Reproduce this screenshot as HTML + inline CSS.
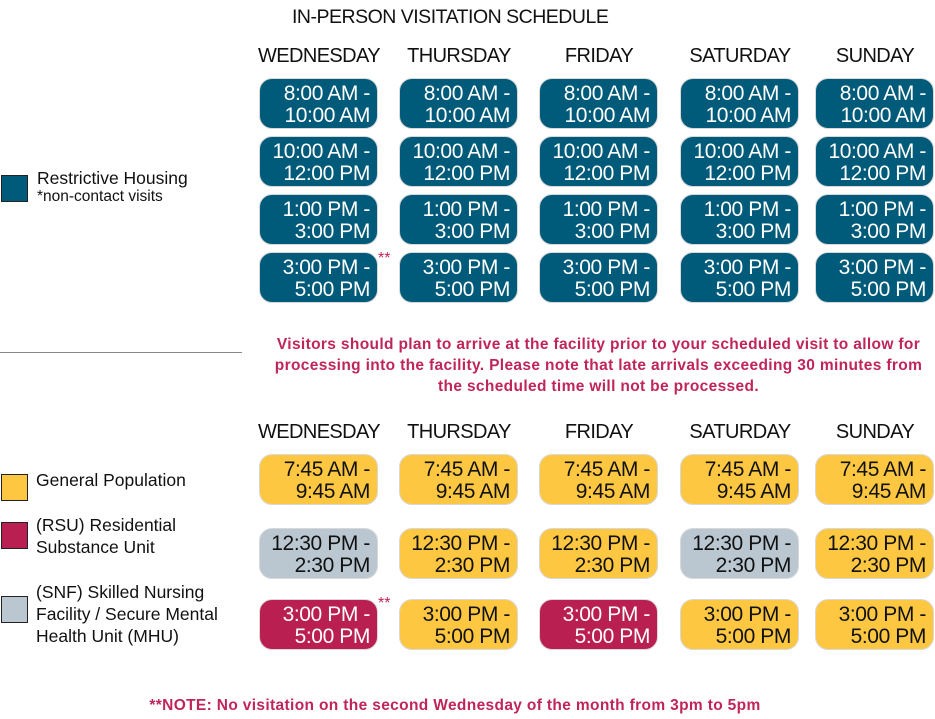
<!DOCTYPE html>
<html><head><meta charset="utf-8"><style>
body{margin:0;width:935px;height:719px;background:#fff;position:relative;font-family:"Liberation Sans",sans-serif;overflow:hidden}
.a{position:absolute}
.h{position:absolute;width:140px;text-align:center;font-size:20px;color:#111;letter-spacing:-0.6px}
.p{position:absolute;width:117px;height:49px;border:1.5px solid #d8d8d8;border-radius:13px;box-sizing:content-box;text-align:right;font-size:21px;line-height:21.5px;padding:0;letter-spacing:-0.4px}
.p span{display:block;padding:4px 7px 0 0}
.t{background:#005a79;color:#fff}
.y{background:#fdc741;color:#111}
.g{background:#bac7d1;color:#111}
.r{background:#b91f50;color:#fff}
.sq{position:absolute;width:25px;height:25px;border:1.5px solid #222}
.lg{position:absolute;font-size:17.5px;color:#111;line-height:22px}
.red{color:#c0255a;font-weight:bold;font-size:15.5px;text-align:center;letter-spacing:0.35px}
.st{position:absolute;color:#c0255a;font-size:16px}
</style></head><body>
<div class="a" style="left:292px;top:6px;font-size:19.5px;letter-spacing:-0.5px;color:#111">IN-PERSON VISITATION SCHEDULE</div>

<div class="h" style="left:249px;top:45px">WEDNESDAY</div>
<div class="h" style="left:389px;top:45px">THURSDAY</div>
<div class="h" style="left:529px;top:45px">FRIDAY</div>
<div class="h" style="left:670px;top:45px">SATURDAY</div>
<div class="h" style="left:805px;top:45px">SUNDAY</div>

<div class="p t" style="left:259px;top:78px"><span>8:00 AM -<br>10:00 AM</span></div>
<div class="p t" style="left:399px;top:78px"><span>8:00 AM -<br>10:00 AM</span></div>
<div class="p t" style="left:539px;top:78px"><span>8:00 AM -<br>10:00 AM</span></div>
<div class="p t" style="left:680px;top:78px"><span>8:00 AM -<br>10:00 AM</span></div>
<div class="p t" style="left:815px;top:78px"><span>8:00 AM -<br>10:00 AM</span></div>

<div class="p t" style="left:259px;top:136px"><span>10:00 AM -<br>12:00 PM</span></div>
<div class="p t" style="left:399px;top:136px"><span>10:00 AM -<br>12:00 PM</span></div>
<div class="p t" style="left:539px;top:136px"><span>10:00 AM -<br>12:00 PM</span></div>
<div class="p t" style="left:680px;top:136px"><span>10:00 AM -<br>12:00 PM</span></div>
<div class="p t" style="left:815px;top:136px"><span>10:00 AM -<br>12:00 PM</span></div>

<div class="p t" style="left:259px;top:194px"><span>1:00 PM -<br>3:00 PM</span></div>
<div class="p t" style="left:399px;top:194px"><span>1:00 PM -<br>3:00 PM</span></div>
<div class="p t" style="left:539px;top:194px"><span>1:00 PM -<br>3:00 PM</span></div>
<div class="p t" style="left:680px;top:194px"><span>1:00 PM -<br>3:00 PM</span></div>
<div class="p t" style="left:815px;top:194px"><span>1:00 PM -<br>3:00 PM</span></div>

<div class="p t" style="left:259px;top:252px"><span>3:00 PM -<br>5:00 PM</span></div>
<div class="p t" style="left:399px;top:252px"><span>3:00 PM -<br>5:00 PM</span></div>
<div class="p t" style="left:539px;top:252px"><span>3:00 PM -<br>5:00 PM</span></div>
<div class="p t" style="left:680px;top:252px"><span>3:00 PM -<br>5:00 PM</span></div>
<div class="p t" style="left:815px;top:252px"><span>3:00 PM -<br>5:00 PM</span></div>
<div class="st" style="left:378px;top:250px">**</div>

<div class="sq" style="left:1px;top:175px;background:#005a79"></div>
<div class="lg" style="left:37px;top:167px">Restrictive Housing</div>
<div class="a" style="left:37px;top:188px;font-size:15.5px;color:#111">*non-contact visits</div>

<div class="a" style="left:0;top:352px;width:242px;height:1px;background:#888"></div>
<div class="a red" style="left:262px;top:334px;width:673px;line-height:21px">Visitors should plan to arrive at the facility prior to your scheduled visit to allow for processing into the facility. Please note that late arrivals exceeding 30 minutes from the scheduled time will not be processed.</div>

<div class="h" style="left:249px;top:421px">WEDNESDAY</div>
<div class="h" style="left:389px;top:421px">THURSDAY</div>
<div class="h" style="left:529px;top:421px">FRIDAY</div>
<div class="h" style="left:670px;top:421px">SATURDAY</div>
<div class="h" style="left:805px;top:421px">SUNDAY</div>

<div class="p y" style="left:259px;top:454px"><span>7:45 AM -<br>9:45 AM</span></div>
<div class="p y" style="left:399px;top:454px"><span>7:45 AM -<br>9:45 AM</span></div>
<div class="p y" style="left:539px;top:454px"><span>7:45 AM -<br>9:45 AM</span></div>
<div class="p y" style="left:680px;top:454px"><span>7:45 AM -<br>9:45 AM</span></div>
<div class="p y" style="left:815px;top:454px"><span>7:45 AM -<br>9:45 AM</span></div>

<div class="p g" style="left:259px;top:528px"><span>12:30 PM -<br>2:30 PM</span></div>
<div class="p y" style="left:399px;top:528px"><span>12:30 PM -<br>2:30 PM</span></div>
<div class="p y" style="left:539px;top:528px"><span>12:30 PM -<br>2:30 PM</span></div>
<div class="p g" style="left:680px;top:528px"><span>12:30 PM -<br>2:30 PM</span></div>
<div class="p y" style="left:815px;top:528px"><span>12:30 PM -<br>2:30 PM</span></div>

<div class="p r" style="left:259px;top:599px"><span>3:00 PM -<br>5:00 PM</span></div>
<div class="p y" style="left:399px;top:599px"><span>3:00 PM -<br>5:00 PM</span></div>
<div class="p r" style="left:539px;top:599px"><span>3:00 PM -<br>5:00 PM</span></div>
<div class="p y" style="left:680px;top:599px"><span>3:00 PM -<br>5:00 PM</span></div>
<div class="p y" style="left:815px;top:599px"><span>3:00 PM -<br>5:00 PM</span></div>
<div class="st" style="left:378px;top:595px">**</div>

<div class="sq" style="left:1px;top:474px;background:#fdc741"></div>
<div class="lg" style="left:36px;top:469px">General Population</div>
<div class="sq" style="left:1px;top:522px;background:#b91f50"></div>
<div class="lg" style="left:36px;top:514px">(RSU) Residential<br>Substance Unit</div>
<div class="sq" style="left:1px;top:596px;background:#bac7d1"></div>
<div class="lg" style="left:36px;top:581px">(SNF) Skilled Nursing<br>Facility / Secure Mental<br>Health Unit (MHU)</div>

<div class="a red" style="left:0;top:697px;width:910px">**NOTE: No visitation on the second Wednesday of the month from 3pm to 5pm</div>
</body></html>
